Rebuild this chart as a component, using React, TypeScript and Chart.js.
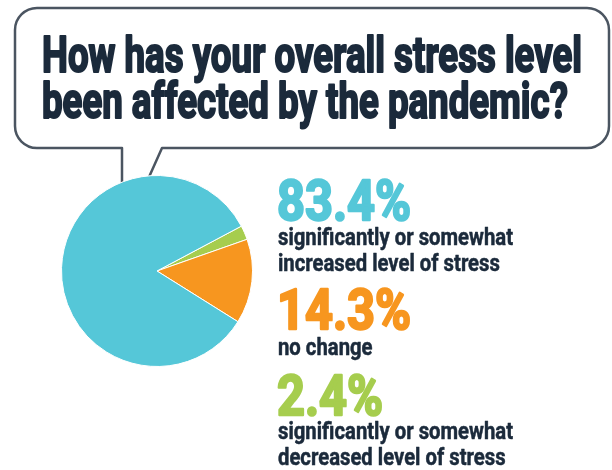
import React, { useEffect, useRef } from "react";
import { Chart, registerables } from "chart.js";

Chart.register(...registerables);

// ---- data (legend order, top to bottom) ----
const categories = [
  "significantly or somewhat increased level of stress",
  "no change",
  "significantly or somewhat decreased level of stress",
];
const values = [83.4, 14.3, 2.4];
const valueLabels = ["83.4%", "14.3%", "2.4%"];
const labelLines = [
  ["significantly or somewhat", "increased level of stress"],
  ["no change"],
  ["significantly or somewhat", "decreased level of stress"],
];
const colors = ["#55c7d8", "#f7961f", "#a6cd4e"];
const titleLines = ["How has your overall stress level", "been affected by the pandemic?"];

const TEXT = "#1b2a3b";
const BORDER = "#4b5561";
const FONT = "Roboto, 'Noto Sans', sans-serif";

function groupScale(ctx: CanvasRenderingContext2D, font: string, sample: string, target: number) {
  ctx.font = font;
  const w = ctx.measureText(sample).width;
  return w > 0 ? target / w : 1;
}

function drawScaled(
  ctx: CanvasRenderingContext2D,
  text: string,
  x: number,
  baseline: number,
  font: string,
  color: string,
  sx: number,
  stroke: number
) {
  ctx.save();
  ctx.font = font;
  ctx.fillStyle = color;
  ctx.strokeStyle = color;
  ctx.lineJoin = "round";
  ctx.textBaseline = "alphabetic";
  ctx.textAlign = "left";
  ctx.translate(x, baseline);
  ctx.scale(sx, 1);
  ctx.fillText(text, 0, 0);
  if (stroke > 0) {
    ctx.lineWidth = stroke;
    ctx.strokeText(text, 0, 0);
  }
  ctx.restore();
}

const overlayPlugin = {
  id: "overlay",
  beforeDatasetsDraw(chart: any) {
    const ctx: CanvasRenderingContext2D = chart.ctx;
    ctx.save();
    // speech bubble
    const x0 = 15, y0 = 8, x1 = 609, y1 = 148, r = 22, tl = 122, tr = 162;
    ctx.strokeStyle = BORDER;
    ctx.lineWidth = 2.5;
    ctx.lineJoin = "round";
    ctx.beginPath();
    ctx.moveTo(tl, 195);
    ctx.lineTo(tl, y1);
    ctx.lineTo(x0 + r, y1);
    ctx.arcTo(x0, y1, x0, y1 - r, r);
    ctx.lineTo(x0, y0 + r);
    ctx.arcTo(x0, y0, x0 + r, y0, r);
    ctx.lineTo(x1 - r, y0);
    ctx.arcTo(x1, y0, x1, y0 + r, r);
    ctx.lineTo(x1, y1 - r);
    ctx.arcTo(x1, y1, x1 - r, y1, r);
    ctx.lineTo(tr, y1);
    ctx.lineTo(145, 186);
    ctx.stroke();
    ctx.restore();

    // title
    const titleFont = `bold 50px ${FONT}`;
    const ts = groupScale(ctx, titleFont, titleLines[0], 540);
    const titleBaselines = [72, 118];
    titleLines.forEach((t, i) => drawScaled(ctx, t, 42, titleBaselines[i], titleFont, TEXT, ts, 2.2));

    // legend text
    const numFont = `bold 56px ${FONT}`;
    const ns = groupScale(ctx, numFont, valueLabels[0], 134);
    const labFont = `bold 23px ${FONT}`;
    const ls = groupScale(ctx, labFont, labelLines[0][0], 235);
    const numBaselines = [220, 329, 415];
    const labBaselines = [[245, 271], [355], [439, 465]];
    valueLabels.forEach((v, i) => {
      drawScaled(ctx, v, 277, numBaselines[i], numFont, colors[i], ns, 2.4);
      labelLines[i].forEach((l, j) =>
        drawScaled(ctx, l, 278, labBaselines[i][j], labFont, TEXT, ls, 0.5)
      );
    });
  },
};

export default function App() {
  const ref = useRef<HTMLCanvasElement | null>(null);
  useEffect(() => {
    if (!ref.current) return;
    // pie is drawn clockwise: decreased, no change, increased
    const order = [2, 1, 0];
    const chart = new Chart(ref.current, {
      type: "pie",
      data: {
        labels: order.map((i) => categories[i]),
        datasets: [
          {
            data: order.map((i) => values[i]),
            backgroundColor: order.map((i) => colors[i]),
            borderColor: "#ffffff",
            borderWidth: 1,
          },
        ],
      },
      options: {
        animation: false,
        responsive: false,
        events: [],
        rotation: 62,
        layout: { padding: { left: 61, top: 175, right: 359, bottom: 103 } },
        plugins: {
          legend: { display: false },
          tooltip: { enabled: false },
          title: { display: false },
        },
      },
      plugins: [overlayPlugin],
    });
    return () => chart.destroy();
  }, []);
  return (
    <div style={{ position: "fixed", left: 0, top: 0, width: 612, height: 470, background: "#fff" }}>
      <canvas ref={ref} width={612} height={470} style={{ width: 612, height: 470, display: "block" }} />
    </div>
  );
}
